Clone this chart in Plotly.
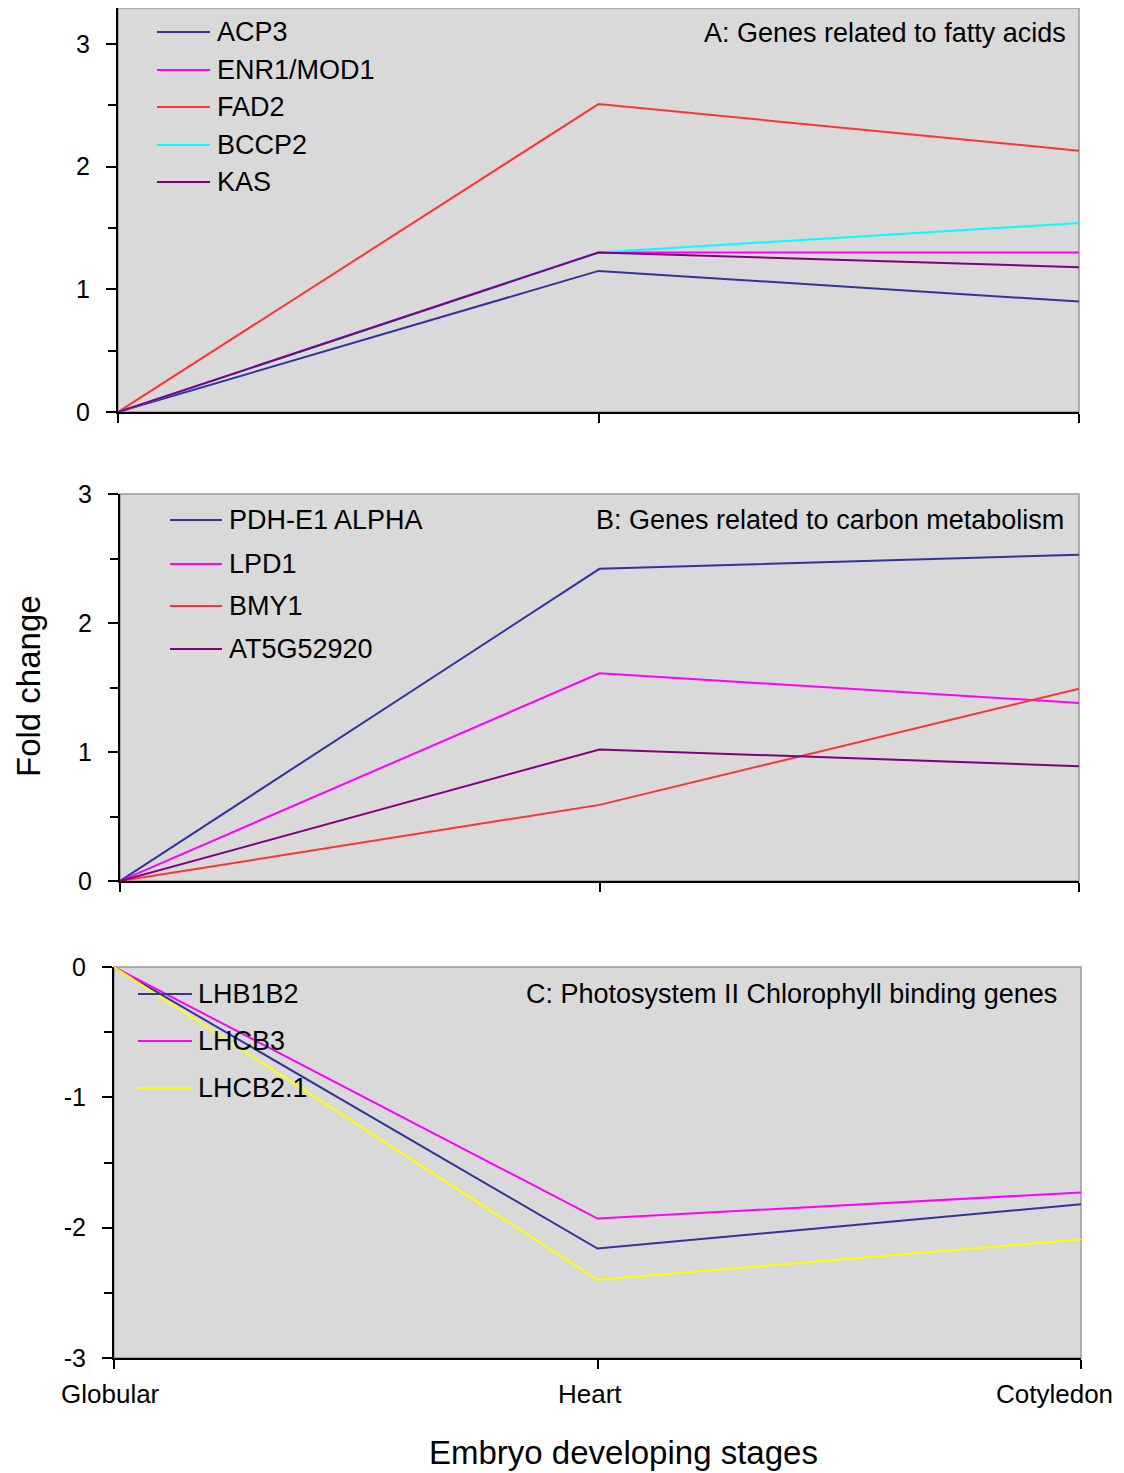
import plotly.graph_objects as go

# page body has an 8px default margin: lay out in reference pixel coords, shifted
OFF = 8
W, H = 1124 - OFF, 1473 - OFF

stages = ["Globular", "Heart", "Cotyledon"]
stage_pos = [0, 1, 2]

# Panel A: Genes related to fatty acids
a_names = ["ACP3", "ENR1/MOD1", "FAD2", "BCCP2", "KAS"]
a_values = [
    [0, 1.15, 0.90],
    [0, 1.30, 1.30],
    [0, 2.51, 2.13],
    [0, 1.30, 1.54],
    [0, 1.30, 1.18],
]
a_colors = ["#333399", "#FF00FF", "#FF3333", "#00FFFF", "#800080"]

# Panel B: Genes related to carbon metabolism
b_names = ["PDH-E1 ALPHA", "LPD1", "BMY1", "AT5G52920"]
b_values = [
    [0, 2.42, 2.53],
    [0, 1.61, 1.38],
    [0, 0.59, 1.49],
    [0, 1.02, 0.89],
]
b_colors = ["#333399", "#FF00FF", "#FF3333", "#800080"]

# Panel C: Photosystem II chlorophyll binding genes
c_names = ["LHB1B2", "LHCB3", "LHCB2.1"]
c_values = [
    [0, -2.16, -1.82],
    [0, -1.93, -1.73],
    [0, -2.40, -2.09],
]
c_colors = ["#333399", "#FF00FF", "#FFFF00"]

panel_titles = [
    "A: Genes related to fatty acids",
    "B: Genes related to carbon metabolism",
    "C: Photosystem II Chlorophyll binding genes",
]

y_ticks = [[0, 1, 2, 3], [0, 1, 2, 3], [-3, -2, -1, 0]]
y_ticklabels = [["0", "1", "2", "3"], ["0", "1", "2", "3"], ["-3", "-2", "-1", "0"]]


def px(x):
    return (x - OFF) / W


def py(y):
    return 1 - (y - OFF) / H


FONT = "Arial, Liberation Sans, sans-serif"

# panel geometry in reference pixels: (left, right, top, bottom)
geo = [
    (118, 1079, 8, 412),
    (120, 1079, 494, 881),
    (114, 1081, 967, 1358),
]
yranges = [[0, 3.293], [0, 3.0], [-3, 0]]

fig = go.Figure()

panels = [(a_names, a_values, a_colors), (b_names, b_values, b_colors), (c_names, c_values, c_colors)]
for i, (names, vals, cols) in enumerate(panels):
    xa = "x" if i == 0 else f"x{i+1}"
    ya = "y" if i == 0 else f"y{i+1}"
    for n, v, c in zip(names, vals, cols):
        fig.add_trace(go.Scatter(x=stage_pos, y=v, mode="lines", name=n,
                                 line=dict(color=c, width=2), xaxis=xa, yaxis=ya,
                                 showlegend=False, cliponaxis=False))

layout = dict(width=W, height=H, paper_bgcolor="white", plot_bgcolor="#D9D9D9",
              margin=dict(l=0, r=0, t=0, b=0, autoexpand=False), showlegend=False)

shapes = []
annotations = []
for i in range(3):
    l, r, t, b = geo[i]
    xk = "xaxis" if i == 0 else f"xaxis{i+1}"
    yk = "yaxis" if i == 0 else f"yaxis{i+1}"
    ya_ref = "y" if i == 0 else f"y{i+1}"
    xa_ref = "x" if i == 0 else f"x{i+1}"
    layout[xk] = dict(domain=[px(l), px(r)], anchor=ya_ref, range=[0, 2], automargin=False,
                      tickvals=stage_pos, showticklabels=False,
                      ticks="outside", ticklen=9, tickwidth=1.5,
                      tickcolor="black", showline=True, linecolor="black", linewidth=2,
                      showgrid=False, zeroline=False)
    layout[yk] = dict(domain=[py(b), py(t)], anchor=xa_ref, range=yranges[i], automargin=False,
                      tickvals=y_ticks[i], ticktext=y_ticklabels[i],
                      ticks="outside", ticklen=10, tickwidth=1.5,
                      tickcolor="black", showline=True, linecolor="black", linewidth=2,
                      showgrid=False, zeroline=False,
                      minor=dict(dtick=0.5, ticks="outside", ticklen=8, tickwidth=1.5,
                                 tickcolor="black", showgrid=False),
                      tickfont=dict(family=FONT, size=25, color="black"),
                      ticklabelstandoff=11)
    shapes.append(dict(type="rect", xref="paper", yref="paper", x0=px(l), x1=px(r),
                       y0=py(b), y1=py(t), fillcolor="rgba(0,0,0,0)",
                       line=dict(color="#999999", width=1.5), layer="below"))

# stage labels under bottom panel, anchored on the category positions
stage_shift = [-4, -8, -27]
for s, xv, sh in zip(stages, stage_pos, stage_shift):
    annotations.append(dict(text=s, xref="x3", yref="paper", x=xv, y=py(1394),
                            xshift=sh, xanchor="center", yanchor="middle", showarrow=False,
                            font=dict(family=FONT, size=26, color="black")))

# legends (manual, one per panel)
leg_specs = [
    (157, 210, 215, [32, 70, 107, 145, 182]),
    (170, 222, 227, [520, 564, 606, 649]),
    (138, 192, 196, [994, 1041, 1088]),
]
for i, (names, vals, cols) in enumerate(panels):
    x0, x1, xt, ys = leg_specs[i]
    for n, c, yy in zip(names, cols, ys):
        shapes.append(dict(type="line", xref="paper", yref="paper", x0=px(x0), x1=px(x1),
                           y0=py(yy), y1=py(yy), line=dict(color=c, width=2)))
        annotations.append(dict(text=n, xref="paper", yref="paper", x=px(xt), y=py(yy),
                                xanchor="left", yanchor="middle", showarrow=False,
                                font=dict(family=FONT, size=27, color="black")))

title_pos = [(1068, 33), (1066, 520), (1059, 994)]
for t, (xx, yy) in zip(panel_titles, title_pos):
    annotations.append(dict(text=t, xref="paper", yref="paper", x=px(xx), y=py(yy),
                            xanchor="right", yanchor="middle", showarrow=False,
                            font=dict(family=FONT, size=27, color="black")))

annotations.append(dict(text="Fold change", xref="paper", yref="paper", x=px(28), y=py(686),
                        xanchor="center", yanchor="middle", showarrow=False, textangle=-90,
                        font=dict(family=FONT, size=33, color="black")))
annotations.append(dict(text="Embryo developing stages", xref="paper", yref="paper",
                        x=px(623), y=py(1452), xanchor="center", yanchor="middle",
                        showarrow=False, font=dict(family=FONT, size=33, color="black")))

layout["shapes"] = shapes
layout["annotations"] = annotations
fig.update_layout(**layout)
fig.write_html("out.html")
